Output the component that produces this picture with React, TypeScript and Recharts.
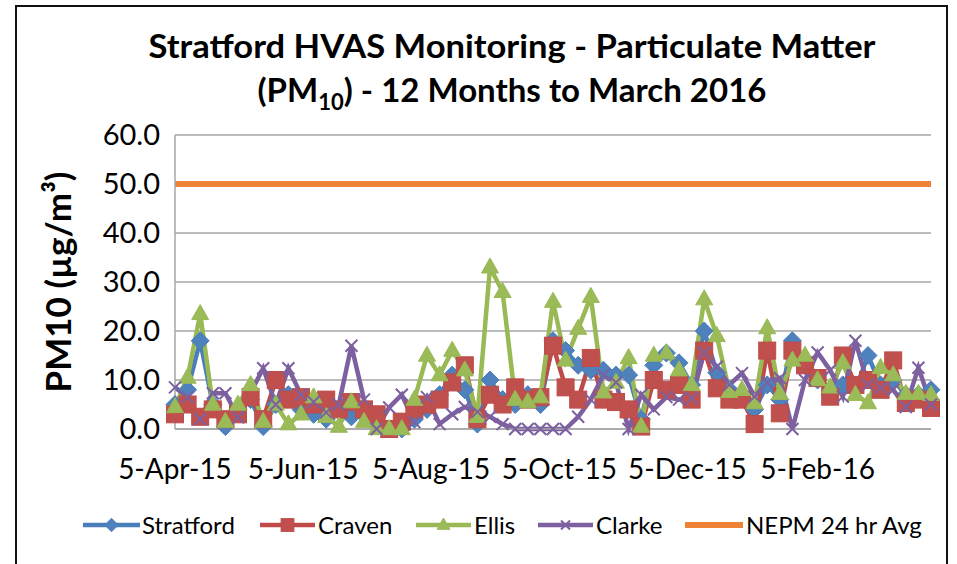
import React from 'react';
import { LineChart, Line, XAxis, YAxis, CartesianGrid } from 'recharts';

// Sampling days (days after 5-Apr-2015, 1-in-6-day HVAS schedule)
const sampleDays = [
  0, 6, 12, 18, 24, 30, 36, 42, 48, 54,
  60, 66, 72, 78, 84, 90, 96, 102, 108, 114,
  120, 126, 132, 138, 144, 150, 156, 162, 168, 174,
  180, 186, 192, 198, 204, 210, 216, 222, 228, 234,
  240, 246, 252, 258, 264, 270, 276, 282, 288, 294,
  300, 306, 312, 318, 324, 330, 336, 342, 348, 354, 360,
];

const stratford = [
  5, 8, 18, 5, 0.5, 4, 6, 0.5, 5, 7,
  4, 3, 2, 4, 2.5, 3, 1, 0, 0, 2,
  4, 7, 11, 8, 1, 10, 6, 5, 7, 5,
  18, 16, 13, 12, 12, 11, 11, 2, 13, 15.5,
  13.5, 9, 20, 11.5, 8, 7, 4, 9, 6, 18,
  13, 10, 7, 9, 8, 15, 9, 10, 7, 7, 8,
];

const craven = [
  3, 5, 2.5, 4, 2, 3, 6.5, 2, 10, 6,
  6.5, 5, 6, 4, 5.5, 4, 3, 0, 1.5, 4,
  5, 6, 9.5, 13, 2, 7, 5, 8.5, 6, 6.5,
  17, 8.5, 6, 14.5, 6, 5.5, 4, 0.5, 10, 8,
  9, 6, 16, 8.3, 6, 6, 1, 16, 3.2, 16,
  13, 10.4, 6.6, 15, 9, 10, 8, 14, 5.3, 6, 4.3,
];

const ellis = [
  4.5, 10.5, 23.5, 5, 1.5, 5, 9, 1.5, 5, 1,
  3, 6.5, 2.5, 0.5, 5.5, 1.5, 0, 0, 0, 6,
  15, 11, 16, 12, 2.5, 33, 28, 6, 5.5, 6.5,
  26, 14, 20.5, 27, 7.5, 9.5, 14.5, 0.5, 15, 15.5,
  12, 9, 26.5, 19, 7.6, 8, 5.3, 20.6, 7.2, 14,
  15, 10, 8.5, 13.5, 7, 5.3, 12.5, 11, 7.2, 7.2, 7,
];

const clarke = [
  8.5, 6.5, 2, 7.3, 7.3, 2.4, null, 12.4, 5, 12.4,
  7, 5.5, 3.4, 5, 17, 6, 0, 4.4, 7, 1.4,
  6.5, 1, 3, 4.5, 3.5, 2.5, 1, 0, 0, 0,
  0, 0, 2.5, 6, 11, 9.5, 0, 7, 4, 6.5,
  6, 6.3, 15.6, 12.7, 9, 11.4, 6.6, 9.5, 10.4, 0,
  10, 15.6, 12, 6.6, 18, 9, 8.4, 8, 4.5, 12.5, 5,
];

const NEPM_LIMIT = 50;

const xTickDays = [0, 61, 122, 183, 244, 306];
const xTickLabels = ['5-Apr-15', '5-Jun-15', '5-Aug-15', '5-Oct-15', '5-Dec-15', '5-Feb-16'];
const yTicks = [0, 10, 20, 30, 40, 50, 60];

const seriesNames = ['Stratford', 'Craven', 'Ellis', 'Clarke', 'NEPM 24 hr Avg'];

const data = sampleDays.map((d, i) => ({
  day: d,
  stratford: stratford[i],
  craven: craven[i],
  ellis: ellis[i],
  clarke: clarke[i],
  nepm: NEPM_LIMIT,
}));

const FONT = 'Lato, "Open Sans", sans-serif';

type Kind = 'diamond' | 'square' | 'triangle' | 'x' | 'none';

function markerShape(kind: Kind, cx: number, cy: number, fill: string, stroke: string, s: number) {
  if (kind === 'diamond') {
    const r = 9 * s;
    return <path d={`M${cx},${cy - r}L${cx + r},${cy}L${cx},${cy + r}L${cx - r},${cy}Z`} fill={fill} stroke={stroke} strokeWidth={1} />;
  }
  if (kind === 'square') {
    const h = 8.5 * s;
    return <rect x={cx - h} y={cy - h} width={2 * h} height={2 * h} fill={fill} stroke={stroke} strokeWidth={1} />;
  }
  if (kind === 'triangle') {
    const w = 8.5 * s;
    const h = 15 * s;
    return <path d={`M${cx},${cy - h * 0.62}L${cx + w},${cy + h * 0.38}L${cx - w},${cy + h * 0.38}Z`} fill={fill} stroke={stroke} strokeWidth={1} />;
  }
  if (kind === 'x') {
    const r = 6 * s;
    return (
      <path d={`M${cx - r},${cy - r}L${cx + r},${cy + r}M${cx - r},${cy + r}L${cx + r},${cy - r}`} stroke={stroke} strokeWidth={2} fill="none" />
    );
  }
  return null;
}

function makeDot(kind: Kind, fill: string, stroke: string, name: string) {
  return (props: any) => {
    const { cx, cy, index } = props;
    if (cx == null || cy == null || Number.isNaN(cx) || Number.isNaN(cy)) {
      return <g key={`${name}-${index}`} />;
    }
    return <g key={`${name}-${index}`}>{markerShape(kind, cx, cy, fill, stroke, 1)}</g>;
  };
}

const styles = [
  { key: 'stratford', line: '#4A7EBB', fill: '#4F81BD', kind: 'diamond' as Kind },
  { key: 'craven', line: '#BE4B48', fill: '#C0504D', kind: 'square' as Kind },
  { key: 'ellis', line: '#98B954', fill: '#9BBB59', kind: 'triangle' as Kind },
  { key: 'clarke', line: '#7D60A0', fill: '#8064A2', kind: 'x' as Kind },
  { key: 'nepm', line: '#EE8236', fill: '#EE8236', kind: 'none' as Kind },
];

const legendLayout = [
  { x1: 83, x2: 140, tx: 142 },
  { x1: 260, x2: 315, tx: 318 },
  { x1: 416, x2: 471, tx: 474 },
  { x1: 538, x2: 593, tx: 596 },
  { x1: 685, x2: 743, tx: 746 },
];

export default function App() {
  return (
    <div style={{ position: 'absolute', left: 0, top: 0, width: 957, height: 564, background: '#fff', overflow: 'hidden' }}>
      <div style={{ position: 'absolute', left: 0, top: 0 }}>
        <LineChart width={957} height={564} data={data} margin={{ top: 135, right: 26, left: 0, bottom: 75 }}>
          <CartesianGrid horizontal vertical={false} stroke="#A6A6A6" strokeWidth={1.5} />
          <XAxis
            dataKey="day"
            type="number"
            domain={[0, 360]}
            ticks={xTickDays}
            interval={0}
            tickFormatter={(v: number) => xTickLabels[xTickDays.indexOf(v)] ?? ''}
            tickLine={false}
            tickSize={0}
            tickMargin={30}
            height={60}
            axisLine={{ stroke: '#A6A6A6', strokeWidth: 1.5 }}
            tick={{ fontSize: 28, fill: '#000', fontFamily: FONT }}
          />
          <YAxis
            type="number"
            domain={[0, 60]}
            ticks={yTicks}
            interval={0}
            width={175}
            tickFormatter={(v: number) => v.toFixed(1)}
            tickLine={false}
            tickSize={0}
            tickMargin={15}
            axisLine={{ stroke: '#A6A6A6', strokeWidth: 1.5 }}
            tick={{ fontSize: 29, fill: '#000', fontFamily: FONT }}
          />
          {styles.map((s, i) => (
            <Line
              key={s.key}
              dataKey={s.key}
              name={seriesNames[i]}
              type="linear"
              stroke={s.line}
              strokeWidth={s.key === 'nepm' ? 6 : 4.5}
              dot={s.kind === 'none' ? false : makeDot(s.kind, s.fill, s.line, s.key)}
              activeDot={false}
              connectNulls
              isAnimationActive={false}
            />
          ))}
        </LineChart>
      </div>
      <svg width={957} height={564} style={{ position: 'absolute', left: 0, top: 0, pointerEvents: 'none' }}>
        <rect x={16} y={6} width={931} height={620} fill="none" stroke="#111" strokeWidth={2} />
        <text x={512} y={58} textAnchor="middle" fontFamily={FONT} fontWeight={700} fontSize={32} fill="#000" textLength={727} lengthAdjust="spacingAndGlyphs">
          Stratford HVAS Monitoring - Particulate Matter
        </text>
        <text x={512} y={102} textAnchor="middle" fontFamily={FONT} fontWeight={700} fontSize={33} fill="#000">
          (PM<tspan fontSize={22} dy={8}>10</tspan>
          <tspan dy={-8}>) - 12 Months to March 2016</tspan>
        </text>
        <text
          x={0}
          y={0}
          transform="translate(71,282) rotate(-90)"
          textAnchor="middle"
          fontFamily={FONT}
          fontWeight={700}
          fontSize={35}
          fill="#000"
        >
          PM10 (µg/m³)
        </text>
        {styles.map((s, i) => {
          const L = legendLayout[i];
          const cy = 525;
          const cx = (L.x1 + L.x2) / 2;
          return (
            <g key={s.key}>
              <line x1={L.x1} y1={cy} x2={L.x2} y2={cy} stroke={s.line} strokeWidth={s.key === 'nepm' ? 6 : 4.5} />
              {markerShape(s.kind, cx, cy, s.fill, s.line, 0.75)}
              <text x={L.tx} y={cy + 9} fontFamily={FONT} fontSize={24} fill="#000">
                {seriesNames[i]}
              </text>
            </g>
          );
        })}
      </svg>
    </div>
  );
}
